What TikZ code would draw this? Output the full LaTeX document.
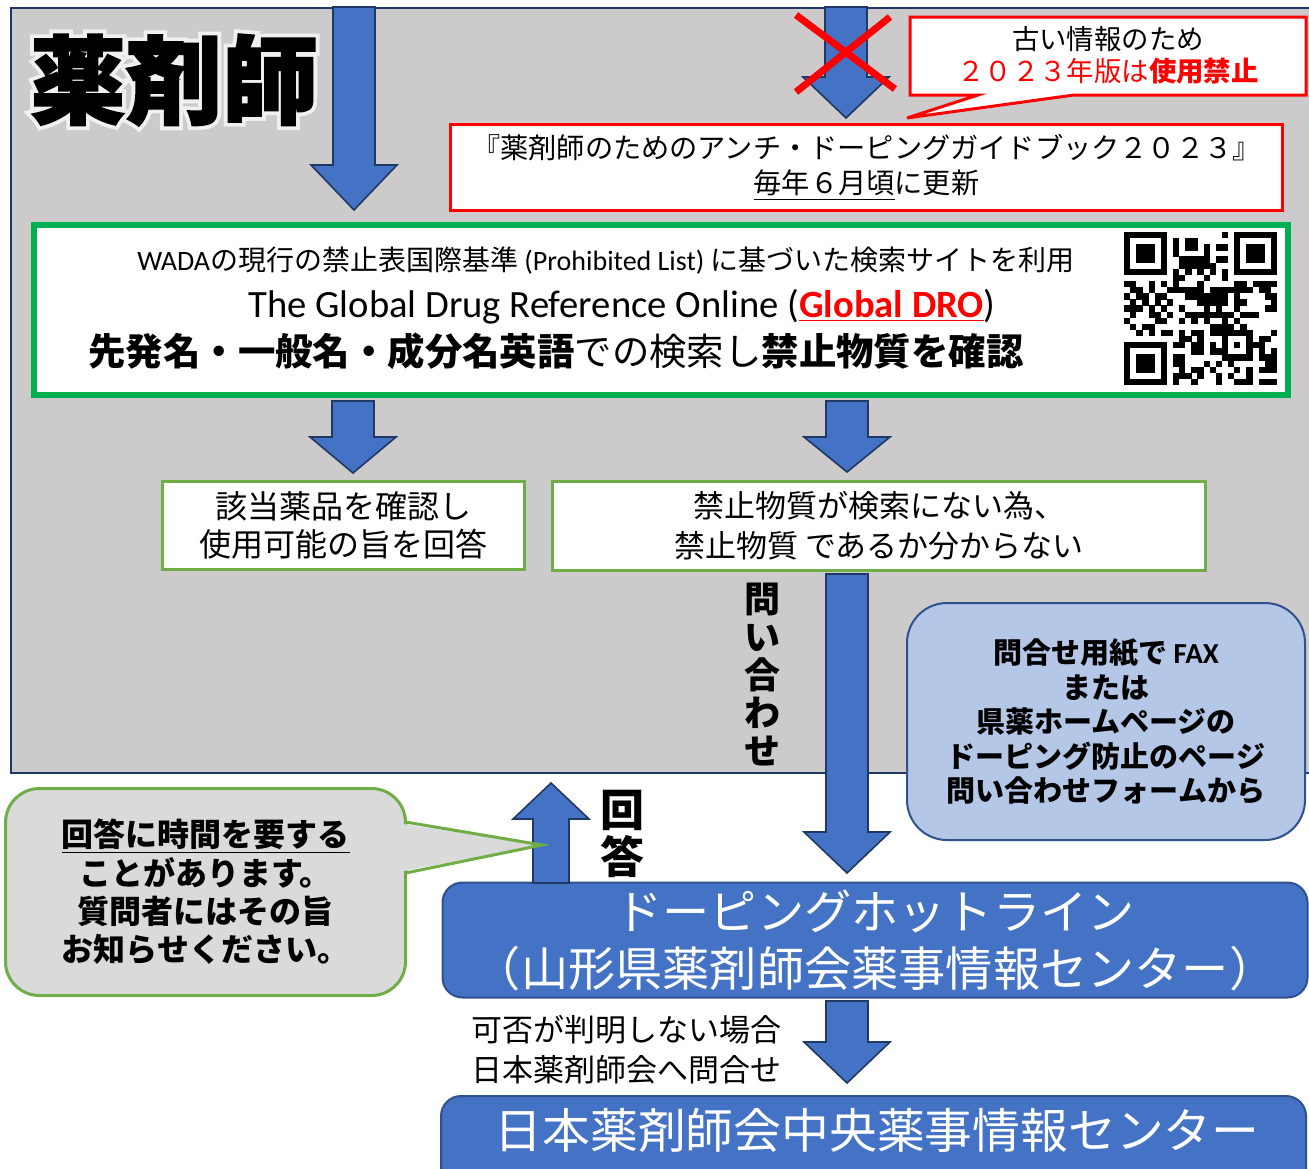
\documentclass[tikz,border=0pt]{standalone}
\usepackage{fontspec}
\setmainfont{Noto Sans CJK JP}
\newfontfamily\lat{Carlito}
\newfontfamily\titlefont{Noto Sans CJK JP}[BoldFeatures={FakeBold=2}]
\newfontfamily\halofont{Noto Sans CJK JP}[BoldFeatures={FakeBold=10}]
\usetikzlibrary{calc}

\definecolor{panelgray}{RGB}{204,202,203}
\definecolor{paneledge}{RGB}{31,56,100}
\definecolor{arrowblue}{RGB}{68,114,196}
\definecolor{arrowedge}{RGB}{32,56,100}
\definecolor{boxedge}{RGB}{47,82,143}
\definecolor{sitegreen}{RGB}{0,176,80}
\definecolor{leafgreen}{RGB}{112,173,71}
\definecolor{formblue}{RGB}{180,199,231}
\definecolor{notegray}{RGB}{218,218,218}

\newcommand{\shafthalf}{10.5pt}
\newcommand{\headhalf}{21.5pt}
\newcommand{\fatarrow}[3][20pt]{%
  \coordinate (fathead) at ($(#3)!#1!(#2)$);
  \draw[fat arrow] ($(#2)!\shafthalf!90:(#3)$) -- ($(fathead)!\shafthalf!90:(#3)$)
    -- ($(fathead)!\headhalf!90:(#3)$) -- (#3)
    -- ($(fathead)!\headhalf!-90:(#3)$) -- ($(fathead)!\shafthalf!-90:(#3)$)
    -- ($(#2)!\shafthalf!-90:(#3)$) -- cycle;
}

\begin{document}
\begin{tikzpicture}[x=0.5pt,y=-0.5pt]
\tikzset{px size/.style 2 args={minimum width=#1*0.5pt,minimum height=#2*0.5pt}}
\tikzset{jtext/.style 2 args={font={\fontsize{#1}{#2}\selectfont},align=center,inner sep=0pt}}
\tikzset{jbold/.style 2 args={jtext={#1}{#2},font={\bfseries\fontsize{#1}{#2}\selectfont}}}
\tikzset{fat arrow/.style={fill=arrowblue,draw=arrowedge,line width=0.8pt,line join=miter}}
\tikzset{redbox/.style={draw=red,line width=1.5pt,fill=white,inner sep=0pt}}
\tikzset{leafbox/.style={draw=leafgreen,line width=1.5pt,fill=white,inner sep=0pt}}
\tikzset{hotbox/.style={draw=boxedge,line width=1pt,fill=arrowblue,rounded corners=10pt,inner sep=0pt}}
\tikzset{title/.style={font={\titlefont\bfseries\fontsize{48pt}{50pt}\selectfont},inner sep=0pt}}
\tikzset{qrink/.style={fill=black}}

\useasboundingbox (0,0) rectangle (1309,1168);

% pharmacist panel
\draw[draw=paneledge,line width=1pt,fill=panelgray] (11,8) rectangle (1340,773);
\coordinate (titlepos) at (174,80);
\node[title,font={\halofont\bfseries\fontsize{48pt}{50pt}\selectfont},text=white!94!black] (halo) at (titlepos) {薬剤師};
\node[title] (title) at (titlepos) {薬剤師};

% old guidebook
\coordinate (bookstart) at (846,7);
\coordinate (bookend) at (846,118);
\fatarrow[20.5pt]{bookstart}{bookend}
\draw[red,line width=3.5pt] (796,15) -- (895,89);
\draw[red,line width=3.5pt] (890,17) -- (796,92);
\draw[redbox] (910,17) -- (1306,17) -- (1306,95) -- (1074,95) -- (907,118) -- (978,95) -- (910,95) -- cycle;
\node[jtext={13.7pt}{16pt}] (oldnote) at (1108,55) {古い情報のため\\\textcolor{red}{２０２３年版は\textbf{使用禁止}}};
\node[redbox,px size={832}{86},jtext={14.1pt}{17.5pt}] (guide) at (866.5,167.5) {『薬剤師のためのアンチ・ドーピングガイドブック２０２３』\\\underline{毎年６月頃}に更新};

% search site
\coordinate (drostart) at (354,7);
\coordinate (droend) at (354,210);
\fatarrow[22.5pt]{drostart}{droend}
\node[draw=sitegreen,line width=3pt,fill=white,px size={1254}{170},inner sep=0pt] (site) at (661,310) {};
\node[jtext={14pt}{16pt}] (wada) at (606,261) {{\lat WADA}の現行の禁止表国際基準 {\lat (Prohibited List)} に基づいた検索サイトを利用};
\node[jtext={19.3pt}{22pt}] (dro) at (622,307) {\lat The Global Drug Reference Online (\textcolor{red}{\textbf{\underline{Global DRO}}})};
\node[jtext={18.7pt}{22pt}] (search) at (556,351) {\textbf{先発名・一般名・成分名英語}での検索し\textbf{禁止物質を確認}};

% qr code
\coordinate (qr) at (1124,232);
\pgfmathsetseed{2023}
\foreach \i in {0,...,24}{
  \foreach \j in {0,...,24}{
    \pgfmathtruncatemacro{\qrskip}{((\i<8)&&(\j<8)) || ((\i>16)&&(\j<8)) || ((\i<8)&&(\j>16)) || ((\i>15)&&(\i<21)&&(\j>15)&&(\j<21)) || (\i==6) || (\j==6)}
    \ifnum\qrskip=0
      \pgfmathtruncatemacro{\qrbit}{rnd<0.5}
      \ifnum\qrbit=1 \fill[qrink] ($(qr)+({\i*6.12},{\j*6.12})$) rectangle +(6.3,6.3); \fi
    \fi
  }
}
\foreach \k in {8,10,...,16}{
  \fill[qrink] ($(qr)+({\k*6.12},{6*6.12})$) rectangle +(6.3,6.3);
  \fill[qrink] ($(qr)+({6*6.12},{\k*6.12})$) rectangle +(6.3,6.3);
}
\foreach \fx/\fy in {0/0,18/0,0/18}{
  \fill[qrink] ($(qr)+({\fx*6.12},{\fy*6.12})$) rectangle +(42.84,42.84);
  \fill[white] ($(qr)+({(\fx+1)*6.12},{(\fy+1)*6.12})$) rectangle +(30.6,30.6);
  \fill[qrink] ($(qr)+({(\fx+2)*6.12},{(\fy+2)*6.12})$) rectangle +(18.36,18.36);
}
\fill[qrink] ($(qr)+({16*6.12},{16*6.12})$) rectangle +(30.6,30.6);
\fill[white] ($(qr)+({17*6.12},{17*6.12})$) rectangle +(18.36,18.36);
\fill[qrink] ($(qr)+({18*6.12},{18*6.12})$) rectangle +(6.12,6.12);

% results
\coordinate (okstart) at (353,401);
\coordinate (okend) at (353,473);
\fatarrow[18pt]{okstart}{okend}
\coordinate (ngstart) at (847,401);
\coordinate (ngend) at (847,472);
\fatarrow[17.5pt]{ngstart}{ngend}
\node[leafbox,px size={362}{88},jtext={16pt}{19pt}] (okbox) at (343.5,525.5) {該当薬品を確認し\\使用可能の旨を回答};
\node[leafbox,px size={653}{89},jtext={15.5pt}{20pt}] (ngbox) at (879,526) {禁止物質が検索にない為、\\禁止物質 であるか分からない};

% inquiry
\coordinate (askstart) at (847,574);
\coordinate (askend) at (847,873);
\fatarrow[20.5pt]{askstart}{askend}
\node[jbold={18pt}{19pt}] (asklabel) at (762,675) {問\\い\\合\\わ\\せ};
\node[draw=boxedge,line width=1pt,fill=formblue,rounded corners=20pt,px size={398}{237},jbold={14.5pt}{17.25pt}] (formnote) at (1106,721.5) {問合せ用紙で {\lat FAX}\\または\\県薬ホームページの\\ドーピング防止のページ\\問い合わせフォームから};

% hotline
\node[hotbox,px size={865}{115},jtext={23.6pt}{28.5pt},text=white] (hotline) at (875,940) {ドーピングホットライン\\（山形県薬剤師会薬事情報センター）};

% reply
\begin{scope}
\renewcommand{\shafthalf}{9pt}
\renewcommand{\headhalf}{19pt}
\coordinate (replystart) at (551,883);
\coordinate (replyend) at (551,783);
\fatarrow[18pt]{replystart}{replyend}
\end{scope}
\node[jbold={22pt}{23.5pt}] (replylabel) at (622,834) {回\\答};
\node[draw=leafgreen,line width=1.5pt,fill=notegray,rounded corners=17pt,px size={400}{207},jbold={16pt}{19.2pt}] (waitnote) at (205.5,892) {\underline{回答に時間を要する}\\ことがあります。\\質問者にはその旨\\お知らせください。};
\coordinate (waittip) at (542,845);
\fill[notegray] (403,824) -- (waittip) -- (403,871) -- cycle;
\draw[leafgreen,line width=1.5pt] (405.5,822) -- (waittip) -- (405.5,873);

% central
\coordinate (jpstart) at (847,1001);
\coordinate (jpend) at (847,1083);
\fatarrow[20.5pt]{jpstart}{jpend}
\node[jtext={15.5pt}{20pt},align=left,anchor=west] (fallback) at (471,1050) {可否が判明しない場合\\日本薬剤師会へ問合せ};
\node[hotbox,px size={865}{160},anchor=north] (central) at (873.5,1095) {};
\node[jtext={23.9pt}{26pt},text=white] (centraltext) at (877,1130) {日本薬剤師会中央薬事情報センター};

\end{tikzpicture}
\end{document}
